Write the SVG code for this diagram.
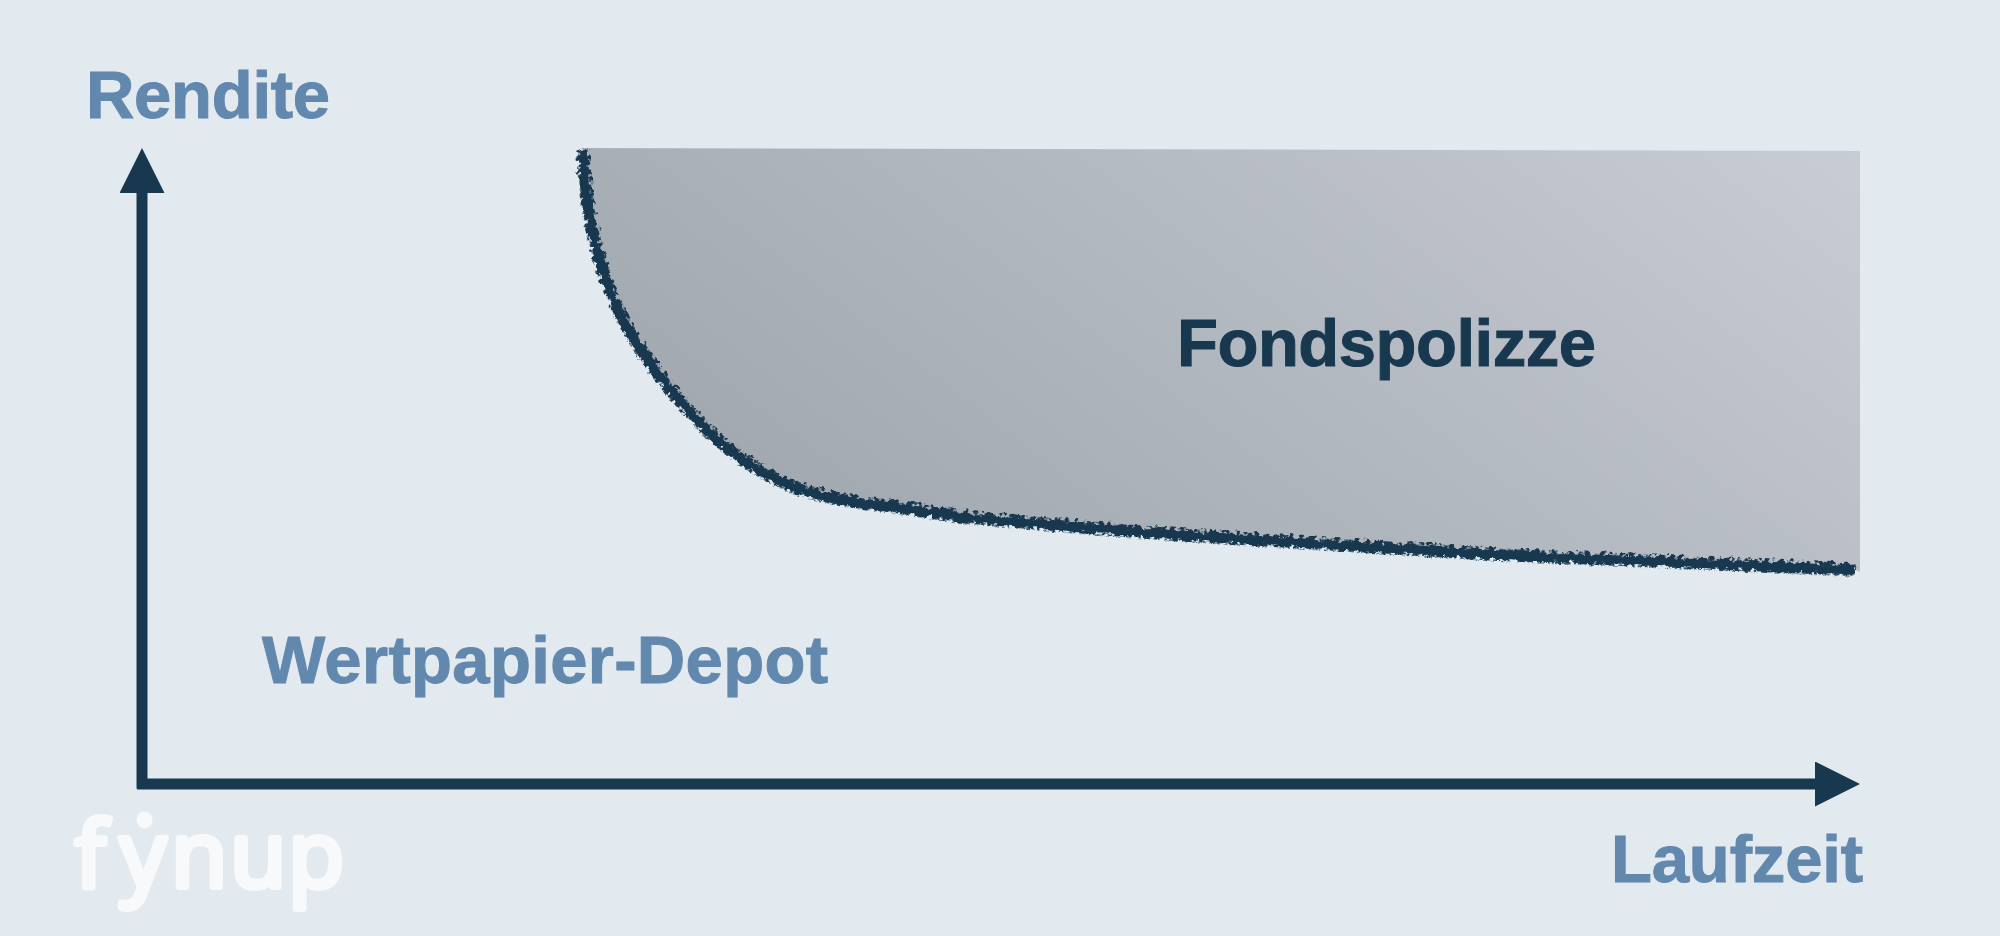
<svg xmlns="http://www.w3.org/2000/svg" width="2000" height="936" viewBox="0 0 2000 936">
<style>
.lbl{font-family:"Liberation Sans",Arial,sans-serif;font-weight:700;font-size:67px;fill:#6288ae;stroke:#6288ae;stroke-width:1}
.dark{fill:#18384f;stroke:#18384f}
.axis{stroke:#18384f;stroke-width:11;fill:none}
.curve{stroke:#18384f;fill:none;stroke-linecap:butt}
</style>
<defs>
<linearGradient id="shade" gradientUnits="userSpaceOnUse" x1="800" y1="500" x2="1363" y2="-232">
<stop offset="0" stop-color="#a2a9b1"/><stop offset="1" stop-color="#c8ccd4"/>
</linearGradient>
<path id="edge" d="M583 150C583.800 159.500 584.800 187.300 588 207C591.200 226.700 596.200 249.200 602 268C607.800 286.800 614.500 303.500 623 320C631.500 336.500 640.200 349.800 653 367C665.800 384.200 685 407.500 700 423C715 438.500 727.500 449.300 743 460C758.500 470.700 776.300 480.300 793 487C809.700 493.700 826.300 496.700 843 500C859.700 503.300 873.500 504.200 893 507C912.500 509.800 930 512.500 960 517C1020 522 1090 528.500 1148 533C1210 537 1380 548 1500 555C1620 561 1740 565 1855 570"/>
<filter id="rough" filterUnits="userSpaceOnUse" x="540" y="120" width="1340" height="480" color-interpolation-filters="sRGB">
<feTurbulence type="fractalNoise" baseFrequency="0.16" numOctaves="3" seed="4" result="n"/>
<feDisplacementMap in="SourceGraphic" in2="n" scale="9" xChannelSelector="R" yChannelSelector="G"/>
</filter>
<filter id="speck" filterUnits="userSpaceOnUse" x="540" y="120" width="1340" height="480" color-interpolation-filters="sRGB">
<feTurbulence type="fractalNoise" baseFrequency="0.2" numOctaves="2" seed="9" result="n"/>
<feColorMatrix in="n" type="matrix" values="0 0 0 0 0 0 0 0 0 0 0 0 0 0 0 6 0 0 0 -2.600" result="m"/>
<feDisplacementMap in="SourceGraphic" in2="n" scale="7" xChannelSelector="G" yChannelSelector="R" result="d"/>
<feComposite in="d" in2="m" operator="in"/>
</filter>
<marker id="head" markerUnits="userSpaceOnUse" markerWidth="46" markerHeight="46" refX="0" refY="22.500" orient="auto">
<path d="M0 0L45 22.500L0 45Z" fill="#18384f"/>
</marker>
</defs>
<rect width="2000" height="936" fill="#e2eaf0"/>
<g id="fondspolizze-area">
<path d="M583 150C583.800 159.500 584.800 187.300 588 207C591.200 226.700 596.200 249.200 602 268C607.800 286.800 614.500 303.500 623 320C631.500 336.500 640.200 349.800 653 367C665.800 384.200 685 407.500 700 423C715 438.500 727.500 449.300 743 460C758.500 470.700 776.300 480.300 793 487C809.700 493.700 826.300 496.700 843 500C859.700 503.300 873.500 504.200 893 507C912.500 509.800 930 512.500 960 517C1020 522 1090 528.500 1148 533C1210 537 1380 548 1500 555C1620 561 1740 565 1855 570L1860 572L1860 151L581 148Z" fill="url(#shade)"/>
<text x="1177" y="366" class="lbl dark" textLength="419">Fondspolizze</text>
</g>
<g id="rendite"><text x="86" y="118" class="lbl" textLength="244">Rendite</text></g>
<g id="wertpapier-depot"><text x="262" y="683" class="lbl" textLength="566">Wertpapier-Depot</text></g>
<g id="laufzeit"><text x="1611" y="882" class="lbl" textLength="252">Laufzeit</text></g>
<g id="logo">
<text x="75 120 171 230 288" y="886.500" style="font-family:'Open Sans',sans-serif;font-weight:400;font-size:92px;fill:#f8f9fb;stroke:#f8f9fb;stroke-width:6;stroke-linejoin:round;stroke-linecap:round">fynup</text>
<ellipse cx="144.500" cy="820" rx="8" ry="8.500" fill="#f8f9fb"/>
</g>
<g id="connectors">
<line class="axis" x1="142" y1="788.500" x2="142" y2="193" marker-end="url(#head)"/>
<line class="axis" x1="137" y1="784" x2="1815" y2="784" marker-end="url(#head)"/>
<use href="#edge" class="curve" stroke-width="14" filter="url(#speck)"/>
<use href="#edge" class="curve" stroke-width="9" filter="url(#rough)"/>
</g>
</svg>
